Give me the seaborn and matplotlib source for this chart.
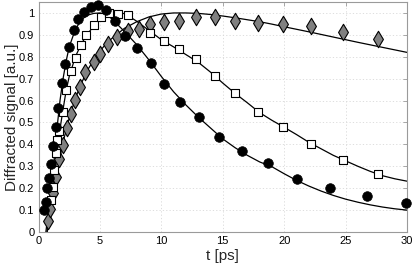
import matplotlib
matplotlib.use("Agg")
import matplotlib.pyplot as plt
import numpy as np
import seaborn as sns

sns.set_theme(style="white")
plt.rcParams["font.family"] = ["Liberation Sans", "DejaVu Sans"]

t_circ = [0.47, 0.61, 0.72, 0.86, 1.02, 1.21, 1.43, 1.62, 1.89, 2.19, 2.47, 2.90, 3.25,
          3.74, 4.29, 4.83, 5.51, 6.20, 7.06, 8.02, 9.12, 10.24, 11.55, 13.04, 14.71,
          16.59, 18.68, 21.08, 23.74, 26.73, 29.9]
s_circ = [0.10, 0.136, 0.20, 0.248, 0.31, 0.394, 0.48, 0.568, 0.679, 0.768, 0.846, 0.922,
          0.971, 1.006, 1.026, 1.037, 1.014, 0.963, 0.895, 0.842, 0.770, 0.676, 0.592,
          0.526, 0.435, 0.370, 0.317, 0.241, 0.200, 0.164, 0.134]

t_sq = [1.02, 1.14, 1.27, 1.40, 1.53, 1.70, 1.96, 2.26, 2.61, 3.02, 3.43, 3.90, 4.51,
        5.09, 5.78, 6.49, 7.27, 9.10, 10.19, 11.47, 12.83, 14.33, 16.0, 17.86, 19.93,
        22.22, 24.75, 27.61]
s_sq = [0.146, 0.205, 0.283, 0.362, 0.42, 0.46, 0.549, 0.650, 0.737, 0.796, 0.855, 0.901,
        0.943, 0.980, 1.0, 0.995, 0.991, 0.910, 0.870, 0.834, 0.789, 0.714, 0.633, 0.547,
        0.481, 0.400, 0.329, 0.263]

t_dia = [0.75, 0.94, 1.16, 1.40, 1.67, 1.96, 2.29, 2.63, 3.0, 3.39, 3.80, 4.51, 5.04,
         5.67, 6.43, 7.27, 8.15, 9.10, 10.22, 11.47, 12.83, 14.33, 15.98, 17.86, 19.93,
         22.22, 24.75, 27.61]
s_dia = [0.048, 0.105, 0.177, 0.251, 0.332, 0.399, 0.475, 0.539, 0.603, 0.663, 0.729,
         0.776, 0.814, 0.857, 0.889, 0.919, 0.926, 0.950, 0.960, 0.965, 0.982, 0.983,
         0.965, 0.956, 0.950, 0.941, 0.912, 0.881]

# fitted curves
t_fit_a = [0.6, 0.8, 1.0, 1.25, 1.5, 1.75, 2.0, 2.25, 2.5, 3.0, 3.5, 4.0, 4.5, 5.0, 5.5,
           6, 7, 8, 9, 10, 11, 12, 13, 14, 15, 16, 17, 18, 19, 20, 21, 22, 23, 24, 25,
           26, 27, 28, 29, 30]
s_fit_a = [0.0, 0.09, 0.19, 0.32, 0.47, 0.6, 0.7, 0.78, 0.845, 0.925, 0.97, 0.99, 0.998,
           1.0, 0.993, 0.972, 0.915, 0.855, 0.785, 0.71, 0.64, 0.58, 0.525, 0.475, 0.425,
           0.385, 0.35, 0.32, 0.298, 0.266, 0.236, 0.21, 0.187, 0.167, 0.15, 0.136, 0.124,
           0.114, 0.106, 0.10]

t_fit_b = [0.7, 1.0, 1.25, 1.5, 1.75, 2.0, 2.25, 2.5, 3.0, 3.5, 4.0, 4.5, 5.0, 5.5, 6.0,
           6.5, 7, 7.5, 8, 9, 10, 11, 12, 13, 14, 15, 16, 17, 18, 19, 20, 21, 22, 23, 24,
           25, 26, 27, 28, 29, 30]
s_fit_b = [0.0, 0.12, 0.25, 0.37, 0.47, 0.56, 0.645, 0.71, 0.8, 0.86, 0.905, 0.94, 0.97,
           0.99, 0.998, 1.0, 0.997, 0.98, 0.962, 0.92, 0.878, 0.845, 0.81, 0.775, 0.73,
           0.68, 0.633, 0.59, 0.545, 0.51, 0.478, 0.445, 0.41, 0.38, 0.35, 0.325, 0.3,
           0.277, 0.257, 0.243, 0.232]

t_fit_c = [0.7, 1.0, 1.5, 2.0, 2.5, 3.0, 3.5, 4.0, 4.5, 5.0, 5.5, 6, 7, 8, 9, 10, 11, 12,
           13, 14, 15, 16, 17, 18, 19, 20, 22, 24, 26, 28, 30]
s_fit_c = [0.0, 0.1, 0.27, 0.41, 0.52, 0.61, 0.68, 0.74, 0.785, 0.825, 0.86, 0.885, 0.93,
           0.96, 0.982, 0.995, 1.0, 1.0, 0.998, 0.993, 0.986, 0.978, 0.969, 0.96, 0.949,
           0.937, 0.914, 0.89, 0.866, 0.843, 0.82]

fig = plt.figure(figsize=(4.15, 2.65), dpi=100)
ax = fig.add_axes([38.5 / 415, 33 / 265, 368.5 / 415, 230 / 265])

for tf, sf in [(t_fit_a, s_fit_a), (t_fit_b, s_fit_b), (t_fit_c, s_fit_c)]:
    sns.lineplot(x=tf, y=sf, sort=False, color="black", linewidth=0.9, ax=ax, zorder=2)

sns.scatterplot(x=t_dia, y=s_dia, marker="d", s=70, color="#808080", edgecolor="black",
                linewidth=0.8, ax=ax, zorder=3, clip_on=False)
sns.scatterplot(x=t_sq, y=s_sq, marker="s", s=36, color="white", edgecolor="black",
                linewidth=0.8, ax=ax, zorder=4, clip_on=False)
sns.scatterplot(x=t_circ, y=s_circ, marker="o", s=48, color="black", edgecolor="black",
                linewidth=0.5, ax=ax, zorder=5, clip_on=False)

ax.set_xlim(0, 30)
ax.set_ylim(0, 1.05)
ax.set_xticks([0, 5, 10, 15, 20, 25, 30])
ax.set_yticks(np.round(np.arange(0, 1.01, 0.1), 1))
ax.set_yticklabels(["0", "0.1", "0.2", "0.3", "0.4", "0.5", "0.6", "0.7", "0.8", "0.9", "1"])
ax.grid(True, color="#d8d8d8", linestyle=(0, (1.5, 2.5)), linewidth=0.6)
ax.set_axisbelow(True)
for sp in ax.spines.values():
    sp.set_color("#9a9a9a")
    sp.set_linewidth(0.8)
ax.tick_params(direction="in", length=3, width=0.6, color="#9a9a9a", labelsize=8,
               top=True, right=True, pad=3, labelcolor="black")
ax.set_xlabel("t [ps]", fontsize=11, labelpad=2)
ax.set_ylabel("Diffracted signal [a.u.]", fontsize=11, labelpad=0)

fig.savefig("out.png", dpi=100, facecolor="white")
